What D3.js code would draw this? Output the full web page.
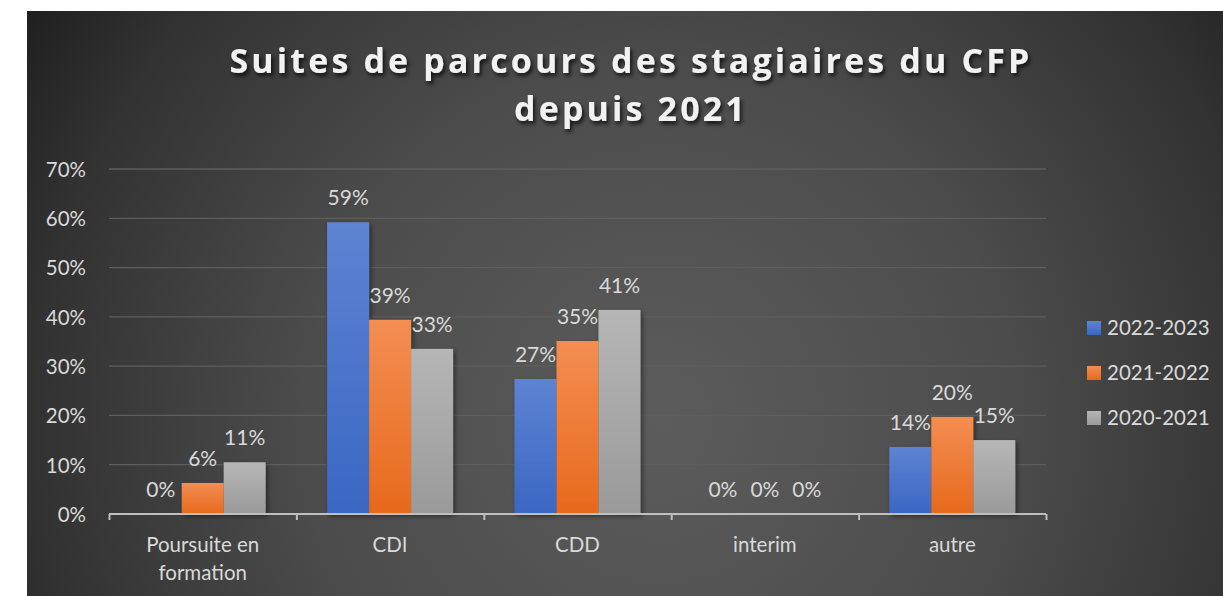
<!DOCTYPE html>
<html><head><meta charset="utf-8">
<script src="https://cdnjs.cloudflare.com/ajax/libs/d3/7.8.5/d3.min.js"></script>
<style>html,body{margin:0;padding:0;background:#fff;overflow:hidden}</style>
</head><body><svg id="c" width="1223" height="596"></svg>
<script>
const categories = ["Poursuite en\nformation", "CDI", "CDD", "interim", "autre"];
const seriesNames = ["2022-2023", "2021-2022", "2020-2021"];
const s2022_2023 = [0.0, 0.592, 0.274, 0.0, 0.136];
const s2021_2022 = [0.063, 0.394, 0.351, 0.0, 0.197];
const s2020_2021 = [0.105, 0.335, 0.414, 0.0, 0.150];
const yTicks = [0, 0.1, 0.2, 0.3, 0.4, 0.5, 0.6, 0.7];
const labels2022_2023 = ["0%", "59%", "27%", "0%", "14%"];
const labels2021_2022 = ["6%", "39%", "35%", "0%", "20%"];
const labels2020_2021 = ["11%", "33%", "41%", "0%", "15%"];
const titleLines = ["Suites de parcours des stagiaires du CFP", "depuis 2021"];

const series = [
  {name: seriesNames[0], values: s2022_2023, labels: labels2022_2023, c1: "#5d83d3", c2: "#3a67c3", key: "b"},
  {name: seriesNames[1], values: s2021_2022, labels: labels2021_2022, c1: "#f38e52", c2: "#e7691c", key: "o"},
  {name: seriesNames[2], values: s2020_2021, labels: labels2020_2021, c1: "#b6b6b6", c2: "#9a9a9a", key: "g"}
];

const svg = d3.select("#c");
const FONT = "Lato, 'Open Sans', sans-serif";
const TFONT = "'Open Sans', Lato, sans-serif";
const TXT = "#d9d9d9";
const defs = svg.append("defs");
const rg = defs.append("radialGradient").attr("id","bg").attr("gradientUnits","userSpaceOnUse")
  .attr("cx", 660).attr("cy", 420).attr("r", 780);
rg.append("stop").attr("offset","0").attr("stop-color","#5c5c5c");
rg.append("stop").attr("offset","0.45").attr("stop-color","#4c4c4c");
rg.append("stop").attr("offset","0.8").attr("stop-color","#323232");
rg.append("stop").attr("offset","1").attr("stop-color","#1c1c1c");
series.forEach(s=>{
  const lg = defs.append("linearGradient").attr("id","g"+s.key).attr("x1",0).attr("y1",0).attr("x2",0).attr("y2",1);
  lg.append("stop").attr("offset",0).attr("stop-color",s.c1);
  lg.append("stop").attr("offset",1).attr("stop-color",s.c2);
});
const sh = defs.append("filter").attr("id","sh").attr("x","-20%").attr("y","-20%").attr("width","150%").attr("height","150%");
sh.append("feDropShadow").attr("dx",2).attr("dy",2).attr("stdDeviation",2.5).attr("flood-color","#000").attr("flood-opacity",0.45);
const tsh = defs.append("filter").attr("id","tsh").attr("x","-10%").attr("y","-30%").attr("width","120%").attr("height","170%");
tsh.append("feDropShadow").attr("dx",2).attr("dy",3).attr("stdDeviation",2).attr("flood-color","#000").attr("flood-opacity",0.75);

svg.append("rect").attr("x",27).attr("y",11).attr("width",1223-27).attr("height",596-11).attr("fill","url(#bg)");

// title
const title = svg.append("g").attr("filter","url(#tsh)");
const tl1 = title.append("text").attr("x",631).attr("y",73).attr("text-anchor","middle")
  .attr("font-family",TFONT).attr("font-weight","bold").attr("font-size",34).attr("fill","#f2f2f2")
  .text(titleLines[0]);
const tl2 = title.append("text").attr("x",631).attr("y",121).attr("text-anchor","middle")
  .attr("font-family",TFONT).attr("font-weight","bold").attr("font-size",34).attr("fill","#f2f2f2")
  .text(titleLines[1]);
(function(){
  const target = 803;
  const w = tl1.node().getComputedTextLength();
  const n = titleLines[0].length;
  const ls = (target - w)/n;
  tl1.attr("letter-spacing", ls); tl2.attr("letter-spacing", ls);
})();

const x0 = 109, x1 = 1046, yTop = 169, yBot = 514;
const y = d3.scaleLinear().domain([0,0.7]).range([yBot,yTop]);
const xb = d3.scaleBand().domain(d3.range(categories.length)).range([x0,x1]).paddingInner(0.328).paddingOuter(0.164);
const xs = d3.scaleBand().domain(d3.range(series.length)).range([0,xb.bandwidth()]);

// gridlines
svg.append("g").selectAll("line").data(yTicks.slice(1)).join("line")
  .attr("x1",x0).attr("x2",x1).attr("y1",d=>y(d)).attr("y2",d=>y(d))
  .attr("stroke","#5e5e5e").attr("stroke-width",1.3);

// y labels
const yAxis = d3.axisLeft(y).tickValues(yTicks).tickFormat(d3.format(".0%")).tickSize(0).tickPadding(0);
const ya = svg.append("g").attr("transform","translate(86,0)").call(yAxis);
ya.select(".domain").remove();
ya.selectAll("text").attr("font-family",FONT).attr("font-size",20.5).attr("fill",TXT).attr("dy","0.36em");

// bars
const bars = svg.append("g").attr("filter","url(#sh)");
series.forEach((s,si)=>{
  bars.selectAll(null).data(s.values).join("rect")
    .attr("x",(d,i)=>xb(i)+xs(si)).attr("width",xs.bandwidth())
    .attr("y",d=>y(d)).attr("height",d=>yBot-y(d))
    .attr("fill","url(#g"+s.key+")");
});

// x axis
const xAxisScale = d3.scaleLinear().domain([0,categories.length]).range([x0,x1]);
const xa = svg.append("g").attr("transform",`translate(0,${yBot})`)
  .call(d3.axisBottom(xAxisScale).tickValues(d3.range(categories.length+1)).tickSize(6).tickFormat(""));
xa.select(".domain").attr("stroke","#bfbfbf").attr("stroke-width",2.2).attr("d",`M${x0},0H${x1}`);
xa.selectAll(".tick line").attr("stroke","#bfbfbf").attr("stroke-width",2);

// category labels
categories.forEach((c,i)=>{
  const lines = c.split("\n");
  const t = svg.append("text").attr("x",xb(i)+xb.bandwidth()/2).attr("y",552).attr("text-anchor","middle")
    .attr("font-family",FONT).attr("font-size",20.5).attr("fill",TXT);
  lines.forEach((l,li)=>t.append("tspan").attr("x",xb(i)+xb.bandwidth()/2).attr("dy",li?28:0).text(l));
});

// data labels
series.forEach((s,si)=>{
  svg.append("g").selectAll("text").data(s.values).join("text")
    .attr("x",(d,i)=>xb(i)+xs(si)+xs.bandwidth()/2).attr("y",d=>y(d)-17)
    .attr("text-anchor","middle").attr("font-family",FONT).attr("font-size",21).attr("fill",TXT)
    .text((d,i)=>s.labels[i]);
});

// legend
const lg = svg.append("g");
series.forEach((s,si)=>{
  const yy = 321 + si*45;
  lg.append("rect").attr("x",1087).attr("y",yy).attr("width",14).attr("height",14).attr("fill","url(#g"+s.key+")");
  lg.append("text").attr("x",1107).attr("y",yy+14).attr("font-family",FONT).attr("font-size",20.5).attr("fill",TXT).text(s.name);
});
</script></body></html>
